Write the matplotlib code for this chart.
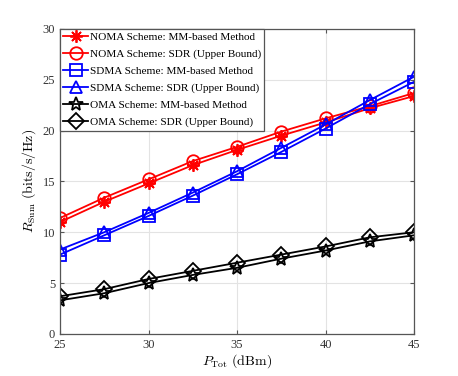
import numpy as np
import matplotlib.pyplot as plt

plt.rcParams['font.family'] = ['Liberation Serif', 'DejaVu Serif']
plt.rcParams['mathtext.fontset'] = 'cm'

# Daten
p_tot = [25, 27.5, 30, 32.5, 35, 37.5, 40, 42.5, 45]
noma_mm = [11.0, 13.0, 14.8, 16.6, 18.1, 19.5, 20.8, 22.2, 23.4]
noma_sdr = [11.4, 13.4, 15.2, 17.0, 18.4, 19.9, 21.2, 22.4, 23.7]
sdma_mm = [7.8, 9.7, 11.6, 13.6, 15.7, 17.9, 20.2, 22.6, 24.8]
sdma_sdr = [8.3, 10.0, 11.9, 13.9, 16.0, 18.3, 20.6, 23.0, 25.3]
oma_mm = [3.3, 4.0, 5.0, 5.8, 6.5, 7.4, 8.2, 9.1, 9.7]
oma_sdr = [3.7, 4.4, 5.4, 6.2, 7.0, 7.8, 8.6, 9.5, 10.0]

fig = plt.figure(figsize=(4.58, 3.76), dpi=100)
ax = fig.add_axes([0.131, 0.112, 0.773, 0.811])

lw = 1.3
ms = 9
asterisk = (8, 2, 0)
ax.plot(p_tot, noma_mm, '-', marker=asterisk, color='red', lw=lw, ms=ms, mfc='none', mew=1.3,
        label='NOMA Scheme: MM-based Method')
ax.plot(p_tot, noma_sdr, '-o', color='red', lw=lw, ms=ms, mfc='none', mew=1.3,
        label='NOMA Scheme: SDR (Upper Bound)')
ax.plot(p_tot, sdma_mm, '-s', color='blue', lw=lw, ms=ms, mfc='none', mew=1.3,
        label='SDMA Scheme: MM-based Method')
ax.plot(p_tot, sdma_sdr, '-^', color='blue', lw=lw, ms=ms, mfc='none', mew=1.3,
        label='SDMA Scheme: SDR (Upper Bound)')
ax.plot(p_tot, oma_mm, '-*', color='black', lw=lw, ms=ms + 1, mfc='none', mew=1.3,
        label='OMA Scheme: MM-based Method')
ax.plot(p_tot, oma_sdr, '-D', color='black', lw=lw, ms=ms - 1, mfc='none', mew=1.3,
        label='OMA Scheme: SDR (Upper Bound)')

ax.set_xlim(25, 45)
ax.set_ylim(0, 30)
ax.set_xticks([25, 30, 35, 40, 45])
ax.set_yticks([0, 5, 10, 15, 20, 25, 30])
ax.grid(True, color='#e3e3e3', lw=0.8)
ax.set_axisbelow(True)
ax.tick_params(direction='in', top=True, right=True, labelsize=9,
               color='#555555', length=3, labelcolor='#333333')
for s in ax.spines.values():
    s.set_color('#555555')
    s.set_linewidth(0.9)

ax.set_xlabel(r'$P_{\rm Tot}\ {\rm (dBm)}$', fontsize=10, labelpad=1)
ax.set_ylabel(r'$R_{\rm Sum}\ {\rm (bits/s/Hz)}$', fontsize=10, labelpad=3)

leg = ax.legend(loc='upper left', borderaxespad=0, fontsize=8.1, fancybox=False,
                framealpha=1, edgecolor='#555555', handlelength=2.2,
                handletextpad=0.15, borderpad=0.3, labelspacing=0.62)
leg.get_frame().set_linewidth(0.9)

plt.savefig('out.png', dpi=100)
